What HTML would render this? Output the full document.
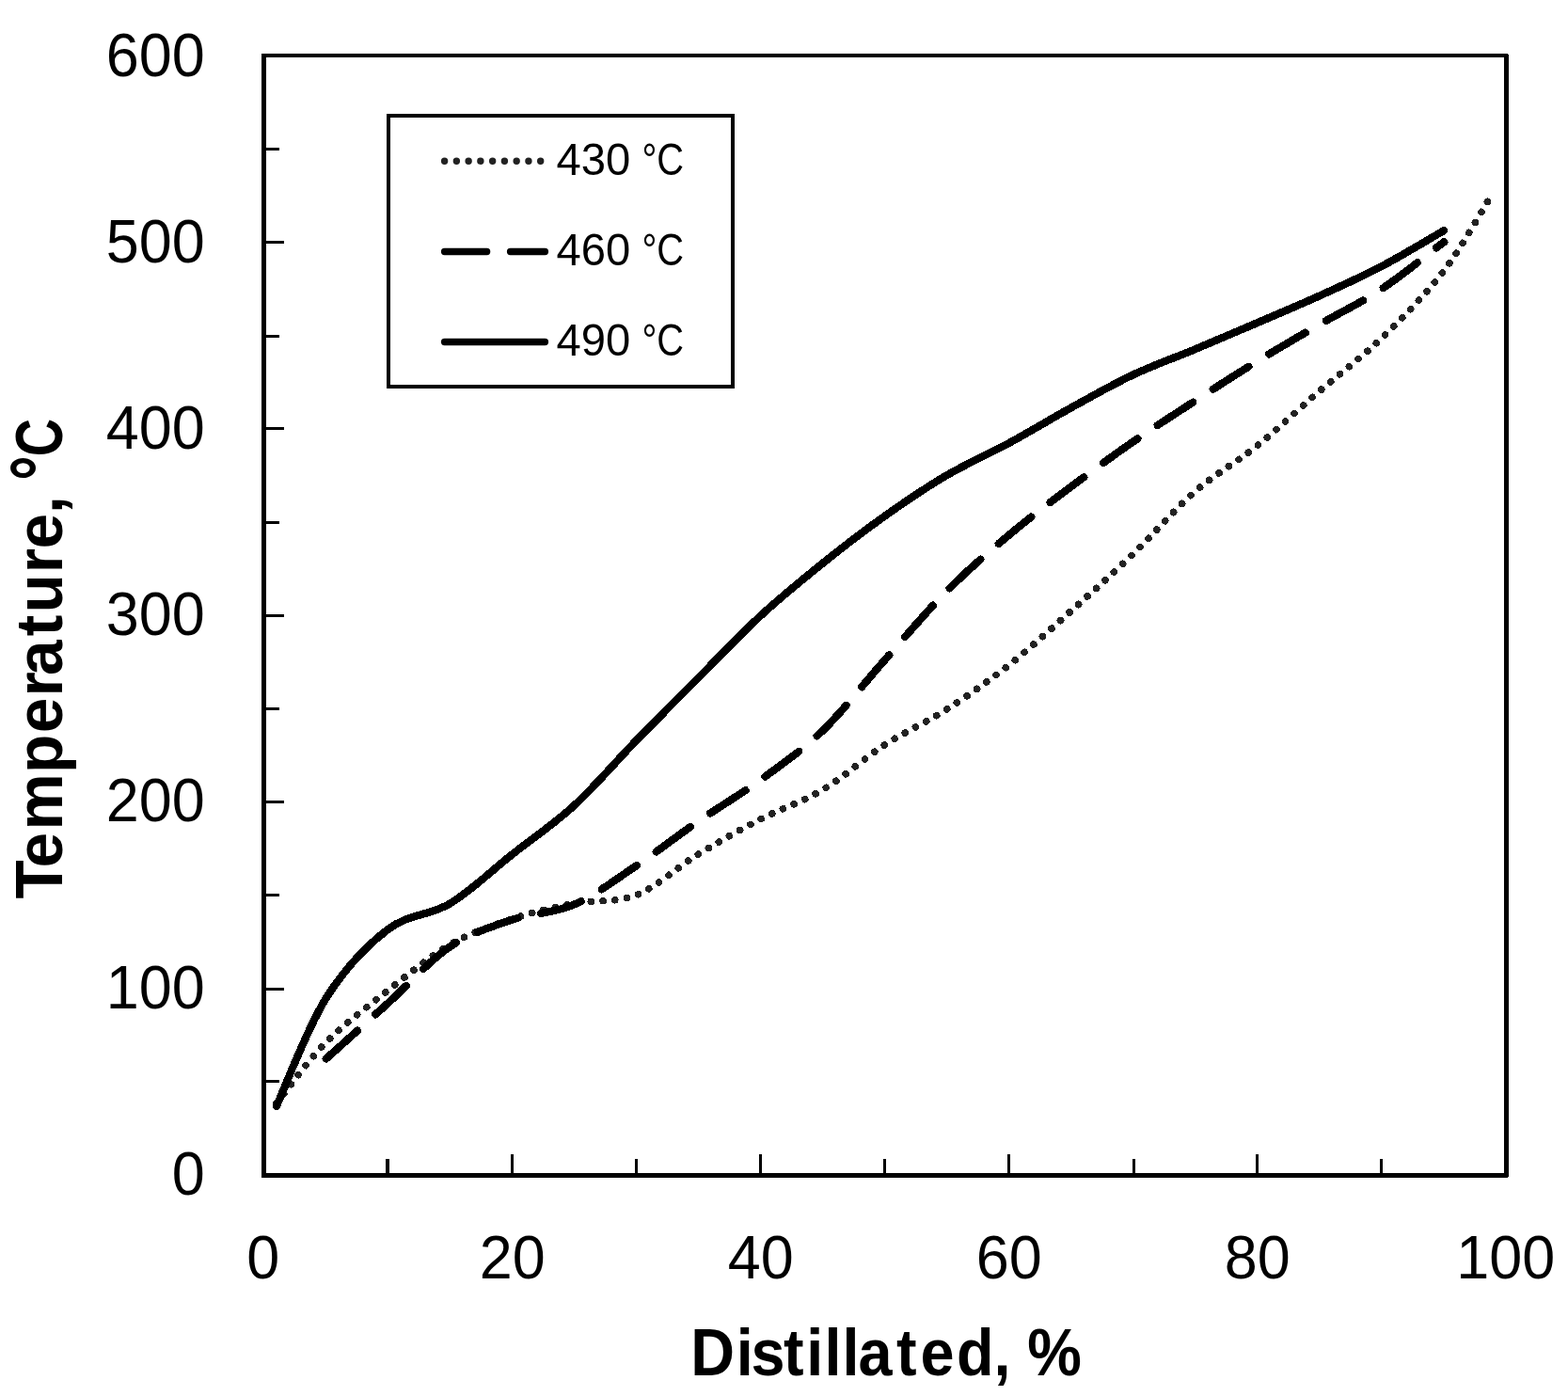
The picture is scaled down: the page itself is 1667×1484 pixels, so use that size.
<!DOCTYPE html>
<html lang="en">
<head>
<meta charset="utf-8">
<title>Distillation curves</title>
<style>
html,body{margin:0;padding:0;background:#fff;}
body{width:1667px;height:1484px;overflow:hidden;}
svg{display:block;}
text{font-family:"Liberation Sans",sans-serif;fill:#000;}
.b{font-weight:bold;}
</style>
</head>
<body>
<svg width="1667" height="1484" viewBox="0 0 1667 1484">
<rect width="1667" height="1484" fill="#fff"/>
<g id="frame" fill="#000" shape-rendering="crispEdges">
<rect x="278" y="57" width="5" height="1195"/>
<rect x="1599" y="58" width="5" height="1193"/>
<rect x="279" y="57" width="1324" height="4"/>
<rect x="279" y="1247" width="1324" height="5"/>
</g>
<g id="yticks" fill="#000" shape-rendering="crispEdges">
<rect x="283" y="157" width="14" height="3"/>
<rect x="283" y="256" width="19" height="3"/>
<rect x="283" y="356" width="14" height="3"/>
<rect x="283" y="454" width="19" height="3"/>
<rect x="283" y="554" width="14" height="3"/>
<rect x="283" y="653" width="19" height="3"/>
<rect x="283" y="752" width="14" height="3"/>
<rect x="283" y="851" width="19" height="3"/>
<rect x="283" y="950" width="14" height="3"/>
<rect x="283" y="1050" width="19" height="3"/>
<rect x="283" y="1148" width="14" height="3"/>
</g>
<g id="xticks" fill="#000" shape-rendering="crispEdges">
<rect x="410" y="1232" width="4" height="15"/>
<rect x="543" y="1227" width="3" height="20"/>
<rect x="675" y="1232" width="3" height="15"/>
<rect x="807" y="1227" width="3" height="20"/>
<rect x="939" y="1232" width="3" height="15"/>
<rect x="1071" y="1227" width="3" height="20"/>
<rect x="1204" y="1232" width="3" height="15"/>
<rect x="1335" y="1227" width="3" height="20"/>
<rect x="1467" y="1232" width="3" height="15"/>
</g>
<g id="series" fill="none" stroke-linecap="round" stroke-linejoin="round" shape-rendering="crispEdges">
<path id="s430" d="M293.9 1173.0 C302.7 1162.2 326.7 1128.2 346.5 1108.2 C366.3 1088.2 390.5 1070.2 412.5 1052.9 C434.5 1035.6 456.5 1016.9 478.5 1004.2 C500.5 991.6 522.5 984.3 544.5 977.0 C566.5 969.7 588.5 964.6 610.5 960.4 C632.5 956.1 654.5 960.2 676.5 951.5 C698.5 942.8 720.5 921.4 742.5 908.0 C764.5 894.6 786.5 882.3 808.5 870.9 C830.5 859.5 852.5 852.9 874.5 839.7 C896.5 826.5 918.5 806.2 940.5 791.9 C962.5 777.6 984.5 768.1 1006.5 754.0 C1028.5 739.9 1050.5 724.5 1072.5 707.1 C1094.5 689.7 1116.5 669.4 1138.5 649.7 C1160.5 630.0 1182.5 610.2 1204.5 589.0 C1226.5 567.8 1248.5 541.7 1270.5 522.5 C1292.5 503.3 1314.5 491.6 1336.5 473.9 C1358.5 456.2 1380.5 435.1 1402.5 416.1 C1424.5 397.1 1446.5 380.9 1468.5 359.7 C1490.5 338.4 1514.8 314.3 1534.5 288.6 C1554.2 262.9 1578.1 219.3 1586.8 205.5" stroke="#222" stroke-width="7.6" stroke-dasharray="0.01 12.779" stroke-dashoffset="0"/>
<path id="s460" d="M346.8 1125.4 C357.8 1115.6 390.6 1086.2 412.5 1066.4 C434.4 1046.6 456.5 1021.1 478.5 1006.3 C500.5 991.5 522.5 985.3 544.5 977.8 C566.5 970.3 588.5 971.1 610.5 961.5 C632.5 951.9 654.5 935.0 676.5 920.3 C698.5 905.5 720.5 888.2 742.5 873.0 C764.5 857.8 786.5 845.1 808.5 829.1 C830.5 813.1 852.5 798.0 874.5 776.8 C896.5 755.6 918.5 726.5 940.5 701.8 C962.5 677.1 984.5 650.5 1006.5 628.4 C1028.5 606.2 1050.5 587.4 1072.5 568.9 C1094.5 550.4 1116.5 534.0 1138.5 517.5 C1160.5 501.0 1182.5 484.9 1204.5 469.7 C1226.5 454.5 1248.5 440.4 1270.5 426.2 C1292.5 411.9 1314.5 397.7 1336.5 384.2 C1358.5 370.7 1380.5 357.9 1402.5 345.1 C1424.5 332.3 1446.4 322.2 1468.5 307.5 C1490.6 292.8 1524.2 265.5 1535.3 257.1" stroke="#000" stroke-width="8.2" stroke-dasharray="44.7 25.6" stroke-dashoffset="0"/>
<path id="s490" d="M293.9 1175.9 C302.7 1156.8 326.7 1092.7 346.5 1061.4 C366.3 1030.1 390.5 1004.7 412.5 987.9 C434.5 971.1 456.5 973.8 478.5 960.5 C500.5 947.2 522.5 925.7 544.5 908.3 C566.5 890.9 588.5 876.4 610.5 856.2 C632.5 836.0 654.5 809.8 676.5 787.2 C698.5 764.6 720.5 742.6 742.5 720.5 C764.5 698.4 786.5 675.0 808.5 654.7 C830.5 634.4 852.5 616.6 874.5 598.9 C896.5 581.2 918.5 564.3 940.5 548.7 C962.5 533.1 984.5 518.2 1006.5 505.3 C1028.5 492.4 1050.5 483.1 1072.5 471.1 C1094.5 459.2 1116.5 445.7 1138.5 433.6 C1160.5 421.5 1182.5 408.9 1204.5 398.5 C1226.5 388.1 1248.5 380.5 1270.5 371.3 C1292.5 362.1 1314.5 352.6 1336.5 343.2 C1358.5 333.8 1380.5 324.6 1402.5 314.6 C1424.5 304.6 1446.4 294.9 1468.5 283.3 C1490.6 271.7 1524.1 251.4 1535.2 245.0" stroke="#000" stroke-width="8.2"/>
</g>
<g id="legend">
<rect x="413" y="123" width="366" height="288" fill="#fff" stroke="#000" stroke-width="4" shape-rendering="crispEdges"/>
<g fill="none" stroke-linecap="round">
<path d="M472.6 171.2 H575" stroke="#222" stroke-width="7.4" stroke-dasharray="0.01 12.75"/>
<path d="M472.6 267.5 H579.4" stroke="#000" stroke-width="7.4" stroke-dasharray="45 25"/>
<path d="M472.6 363.5 H579.4" stroke="#000" stroke-width="7.4"/>
</g>
</g>
<g id="ylabels">
<text transform="translate(217.7 80.6) scale(0.9836 1)" font-size="64" text-anchor="end">600</text>
<text transform="translate(217.7 278.8) scale(0.9836 1)" font-size="64" text-anchor="end">500</text>
<text transform="translate(217.7 476.9) scale(0.9836 1)" font-size="64" text-anchor="end">400</text>
<text transform="translate(217.7 675.1) scale(0.9836 1)" font-size="64" text-anchor="end">300</text>
<text transform="translate(217.7 873.3) scale(0.9836 1)" font-size="64" text-anchor="end">200</text>
<text transform="translate(217.7 1071.5) scale(0.9836 1)" font-size="64" text-anchor="end">100</text>
<text transform="translate(217.7 1269.6) scale(0.9836 1)" font-size="64" text-anchor="end">0</text>
</g>
<g id="xlabels">
<text transform="translate(279.8 1359.0) scale(0.9836 1)" font-size="64" text-anchor="middle">0</text>
<text transform="translate(544.8 1359.0) scale(0.9836 1)" font-size="64" text-anchor="middle">20</text>
<text transform="translate(808.8 1359.0) scale(0.9836 1)" font-size="64" text-anchor="middle">40</text>
<text transform="translate(1072.8 1359.0) scale(0.9836 1)" font-size="64" text-anchor="middle">60</text>
<text transform="translate(1336.8 1359.0) scale(0.9836 1)" font-size="64" text-anchor="middle">80</text>
<text transform="translate(1600.8 1359.0) scale(0.9836 1)" font-size="64" text-anchor="middle">100</text>
</g>
<text id="xtitle" class="b" font-size="71.2" transform="translate(0 1461.9) scale(0.9099 1)" x="807.0 860.2 877.5 915.6 942.2 963.4 984.2 1003.0 1047.5 1075.3 1117.8 1161.2 1181.0 1200.3">Distillated, %</text>
<text id="ytitle" class="b" font-size="71.2" transform="translate(66.1 954.0) rotate(-90) scale(0.9493 1)" x="-1.6 33.3 75.2 139.1 184.0 225.0 248.6 292.6 318.7 363.1 390.4 429.8 449.6">Temperature, <tspan x="466.8" textLength="28.3" lengthAdjust="spacingAndGlyphs" font-size="86.5" dy="5.6">°</tspan><tspan x="493.7" textLength="42.4" lengthAdjust="spacingAndGlyphs" dy="-5.6">C</tspan></text>
<g id="legend-labels">
<text font-size="47.2" y="185.8"><tspan x="591.4">430</tspan> <tspan x="682.4" textLength="44.7" lengthAdjust="spacingAndGlyphs">°C</tspan></text>
<text font-size="47.2" y="281.8"><tspan x="591.4">460</tspan> <tspan x="682.4" textLength="44.7" lengthAdjust="spacingAndGlyphs">°C</tspan></text>
<text font-size="47.2" y="377.8"><tspan x="591.4">490</tspan> <tspan x="682.4" textLength="44.7" lengthAdjust="spacingAndGlyphs">°C</tspan></text>
</g>
</svg>
</body>
</html>
